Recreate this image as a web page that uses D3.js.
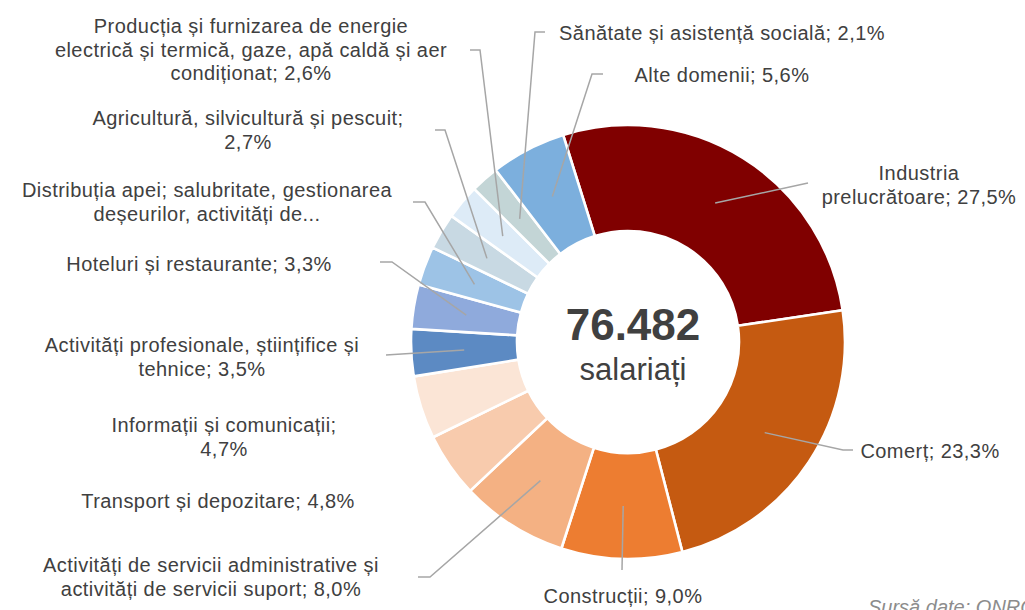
<!DOCTYPE html>
<html>
<head>
<meta charset="utf-8">
<script src="https://cdn.jsdelivr.net/npm/d3@7"></script>
<style>
  html, body { margin: 0; padding: 0; background: #fff; overflow: hidden; }
  svg { display: block; }
  text { font-family: "Liberation Sans", Arial, sans-serif; fill: #404040; }
</style>
</head>
<body>
<svg id="chart" width="1025" height="610"></svg>
<script>
// ---- data ----
const categories = [
  "Industria prelucrătoare",
  "Comerț",
  "Construcții",
  "Activități de servicii administrative și activități de servicii suport",
  "Transport și depozitare",
  "Informații și comunicații",
  "Activități profesionale, științifice și tehnice",
  "Hoteluri și restaurante",
  "Distribuția apei; salubritate, gestionarea deșeurilor, activități de decontaminare",
  "Agricultură, silvicultură și pescuit",
  "Producția și furnizarea de energie electrică și termică, gaze, apă caldă și aer condiționat",
  "Sănătate și asistență socială",
  "Alte domenii"
];
const values = [27.5, 23.3, 9.0, 8.0, 4.8, 4.7, 3.5, 3.3, 2.9, 2.7, 2.6, 2.1, 5.6];
const totalEmployees = 76482;
const totalUnit = "salariați";
const sourceNote = "Sursă date: ONRC";

// label lines as shown in the chart ({v} = formatted value)
const labelLines = [
  ["Industria", "prelucrătoare; {v}"],
  ["Comerț; {v}"],
  ["Construcții; {v}"],
  ["Activități de servicii administrative și", "activități de servicii suport; {v}"],
  ["Transport și depozitare; {v}"],
  ["Informații și comunicații;", "{v}"],
  ["Activități profesionale, științifice și", "tehnice; {v}"],
  ["Hoteluri și restaurante; {v}"],
  ["Distribuția apei; salubritate, gestionarea", "deșeurilor, activități de..."],
  ["Agricultură, silvicultură și pescuit;", "{v}"],
  ["Producția și furnizarea de energie", "electrică și termică, gaze, apă caldă și aer", "condiționat; {v}"],
  ["Sănătate și asistență socială; {v}"],
  ["Alte domenii; {v}"]
];

const colors = [
  "#800000", "#C55A11", "#ED7D31", "#F4B183", "#F8CBAD", "#FBE5D6",
  "#5C8AC3", "#8FAADC", "#9DC3E6", "#C8D9E3", "#DDEBF7", "#C3D5D6", "#7CAFDD"
];

// ---- layout (label placement, as manually placed in original) ----
const labelPos = [
  {x: 919, y: 180},
  {x: 930, y: 458},
  {x: 623, y: 603},
  {x: 211, y: 572},
  {x: 218, y: 508},
  {x: 224, y: 432},
  {x: 202, y: 352},
  {x: 199, y: 271},
  {x: 207, y: 197},
  {x: 248, y: 125},
  {x: 251, y: 33},
  {x: 722, y: 40},
  {x: 722, y: 82}
];
const leaderPts = [
  [[808, 183]],
  [[843, 450], [853, 450]],
  [[622, 570]],
  [[430, 577], [418, 577]],
  null,
  null,
  [[386, 355]],
  [[392, 262], [380, 262]],
  [[425, 202], [413, 202]],
  [[445, 130], [435, 130]],
  [[480, 50], [470, 50]],
  [[535, 32], [545, 32]],
  [[592, 74], [603, 74]]
];

const W = 1025, H = 610;
const cx = 628, cy = 342;
const outerR = 217, innerR = 111;
const startAngle = -17.4 * Math.PI / 180;
const lineH = 23.7;
const labelSize = 20;

const ro = d3.formatLocale({decimal: ",", thousands: ".", grouping: [3], currency: ["", " lei"]});
const fmtPct = v => ro.format(".1f")(v) + "%";
const fmtInt = ro.format(",");

const svg = d3.select("#chart");

const data = categories.map((c, i) => ({name: c, value: values[i], i}));

const pie = d3.pie().value(d => d.value).sort(null)
  .startAngle(startAngle).endAngle(startAngle + 2 * Math.PI);
const arcs = pie(data);
const arc = d3.arc().innerRadius(innerR).outerRadius(outerR);

const g = svg.append("g").attr("transform", `translate(${cx},${cy})`);

g.selectAll("path.slice").data(arcs).enter().append("path")
  .attr("class", "slice")
  .attr("d", arc)
  .attr("fill", d => colors[d.data.i])
  .attr("stroke", "#fff")
  .attr("stroke-width", 2.6)
  .attr("stroke-linejoin", "miter");

// leader lines
const line = d3.line();
arcs.forEach(d => {
  const pts = leaderPts[d.data.i];
  if (!pts) return;
  const c = arc.centroid(d);
  const p0 = [c[0] + cx, c[1] + cy];
  svg.append("path")
    .attr("d", line([p0, ...pts]))
    .attr("fill", "none")
    .attr("stroke", "#A6A6A6")
    .attr("stroke-width", 1.5);
});

// labels
arcs.forEach(d => {
  const i = d.data.i;
  const pos = labelPos[i];
  const t = svg.append("text")
    .attr("text-anchor", "middle")
    .attr("font-size", labelSize)
    .attr("letter-spacing", 0.45);
  labelLines[i].forEach((ln, k) => {
    t.append("tspan")
      .attr("x", pos.x)
      .attr("y", pos.y + k * lineH)
      .text(ln.replace("{v}", fmtPct(d.data.value)));
  });
});

// center
svg.append("text")
  .attr("x", cx + 5).attr("y", 340)
  .attr("text-anchor", "middle")
  .attr("font-size", 44).attr("font-weight", "bold")
  .text(fmtInt(totalEmployees));
svg.append("text")
  .attr("x", cx + 5).attr("y", 380)
  .attr("text-anchor", "middle")
  .attr("font-size", 31)
  .text(totalUnit);

// source note (partly cut off at bottom edge, as in the original)
svg.append("text")
  .attr("x", 868).attr("y", 614)
  .attr("font-size", 20)
  .attr("font-style", "italic")
  .style("fill", "#8C8C8C")
  .text(sourceNote);
</script>
</body>
</html>
